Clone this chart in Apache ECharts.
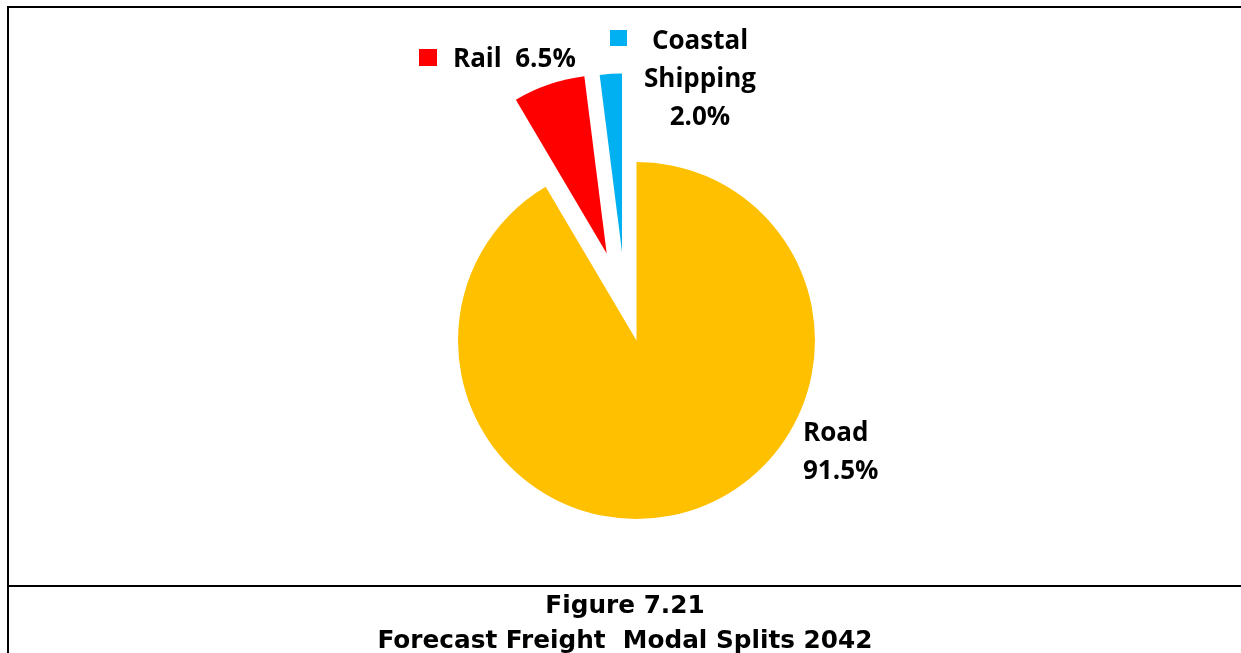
<!DOCTYPE html>
<html>
<head>
<meta charset="utf-8">
<script src="https://cdn.jsdelivr.net/npm/echarts@6/dist/echarts.min.js"></script>
<style>
html,body{margin:0;padding:0;background:#fff;}
#chart{width:1241px;height:653px;}
</style>
</head>
<body>
<div id="chart"></div>
<script>
const categories = ['Road', 'Rail', 'Coastal Shipping'];
const shares = [91.5, 6.5, 2.0];
const colors = ['#FFC000', '#FF0000', '#00B0F0'];
const exploded = [false, true, true];
const captionLines = ['Figure 7.21', 'Forecast Freight  Modal Splits 2042'];

const labelFont = '"Open Sans", Lato, sans-serif';
const captionFont = '"DejaVu Sans Condensed", "DejaVu Sans", sans-serif';

function pct(i) { return shares[i].toFixed(1) + '%'; }

// pie data; 'show' picks which slices a series paints (others transparent)
function pieData(showIdx) {
  return categories.map((c, i) => ({
    name: c,
    value: shares[i],
    selected: exploded[i],
    itemStyle: { color: showIdx.indexOf(i) >= 0 ? colors[i] : 'rgba(0,0,0,0)' }
  }));
}

const pieBase = {
  type: 'pie',
  radius: [0, 178.5],
  startAngle: 90,
  clockwise: true,
  selectedMode: 'multiple',
  avoidLabelOverlap: false,
  silent: true,
  itemStyle: { borderWidth: 0 },
  emphasis: { disabled: true },
  label: { show: false },
  labelLine: { show: false }
};

// label texts built from the data arrays
const roadLines = [categories[0], pct(0)];
const railText = categories[1] + '  ' + pct(1);
const coastalLines = categories[2].split(' ').concat([pct(2)]);

function txt(t, x, y, align, font, size, extra) {
  return Object.assign({
    type: 'text', x: x, y: y, silent: true,
    style: { text: t, fontFamily: font, fontWeight: 'bold', fontSize: size, fill: '#000', align: align, verticalAlign: 'middle' }
  }, extra || {});
}

const graphics = [
  { type: 'line', shape: { x1: 8, y1: 7, x2: 1241, y2: 7 }, style: { stroke: '#000', lineWidth: 2 } },
  { type: 'line', shape: { x1: 8, y1: 6, x2: 8, y2: 653 }, style: { stroke: '#000', lineWidth: 2 } },
  { type: 'line', shape: { x1: 8, y1: 586, x2: 1241, y2: 586 }, style: { stroke: '#000', lineWidth: 2 } },
  // legend-key squares
  { type: 'rect', shape: { x: 419, y: 49, width: 18, height: 17 }, style: { fill: colors[1] } },
  { type: 'rect', shape: { x: 610, y: 30, width: 17, height: 16 }, style: { fill: colors[2] } },
  // labels
  txt(railText, 453, 60, 'left', labelFont, 26),
  txt(coastalLines[0], 700, 42, 'center', labelFont, 26),
  txt(coastalLines[1], 700, 80, 'center', labelFont, 26),
  txt(coastalLines[2], 700, 118, 'center', labelFont, 26),
  txt(roadLines[0], 803, 434, 'left', labelFont, 26),
  txt(roadLines[1], 803, 472, 'left', labelFont, 26),
  // caption
  txt(captionLines[0], 625, 606, 'center', captionFont, 25, { scaleX: 1.1, originX: 0, originY: 0 }),
  txt(captionLines[1], 625, 641, 'center', captionFont, 25, { scaleX: 1.1, originX: 0, originY: 0 })
];

const chart = echarts.init(document.getElementById('chart'));
chart.setOption({
  backgroundColor: '#fff',
  animation: false,
  series: [
    Object.assign({}, pieBase, { center: [636.5, 340.5], selectedOffset: 92, data: pieData([0, 1]) }),
    Object.assign({}, pieBase, { center: [627.6, 340.5], selectedOffset: 88.7, data: pieData([2]) })
  ],
  graphic: graphics
});
</script>
</body>
</html>
